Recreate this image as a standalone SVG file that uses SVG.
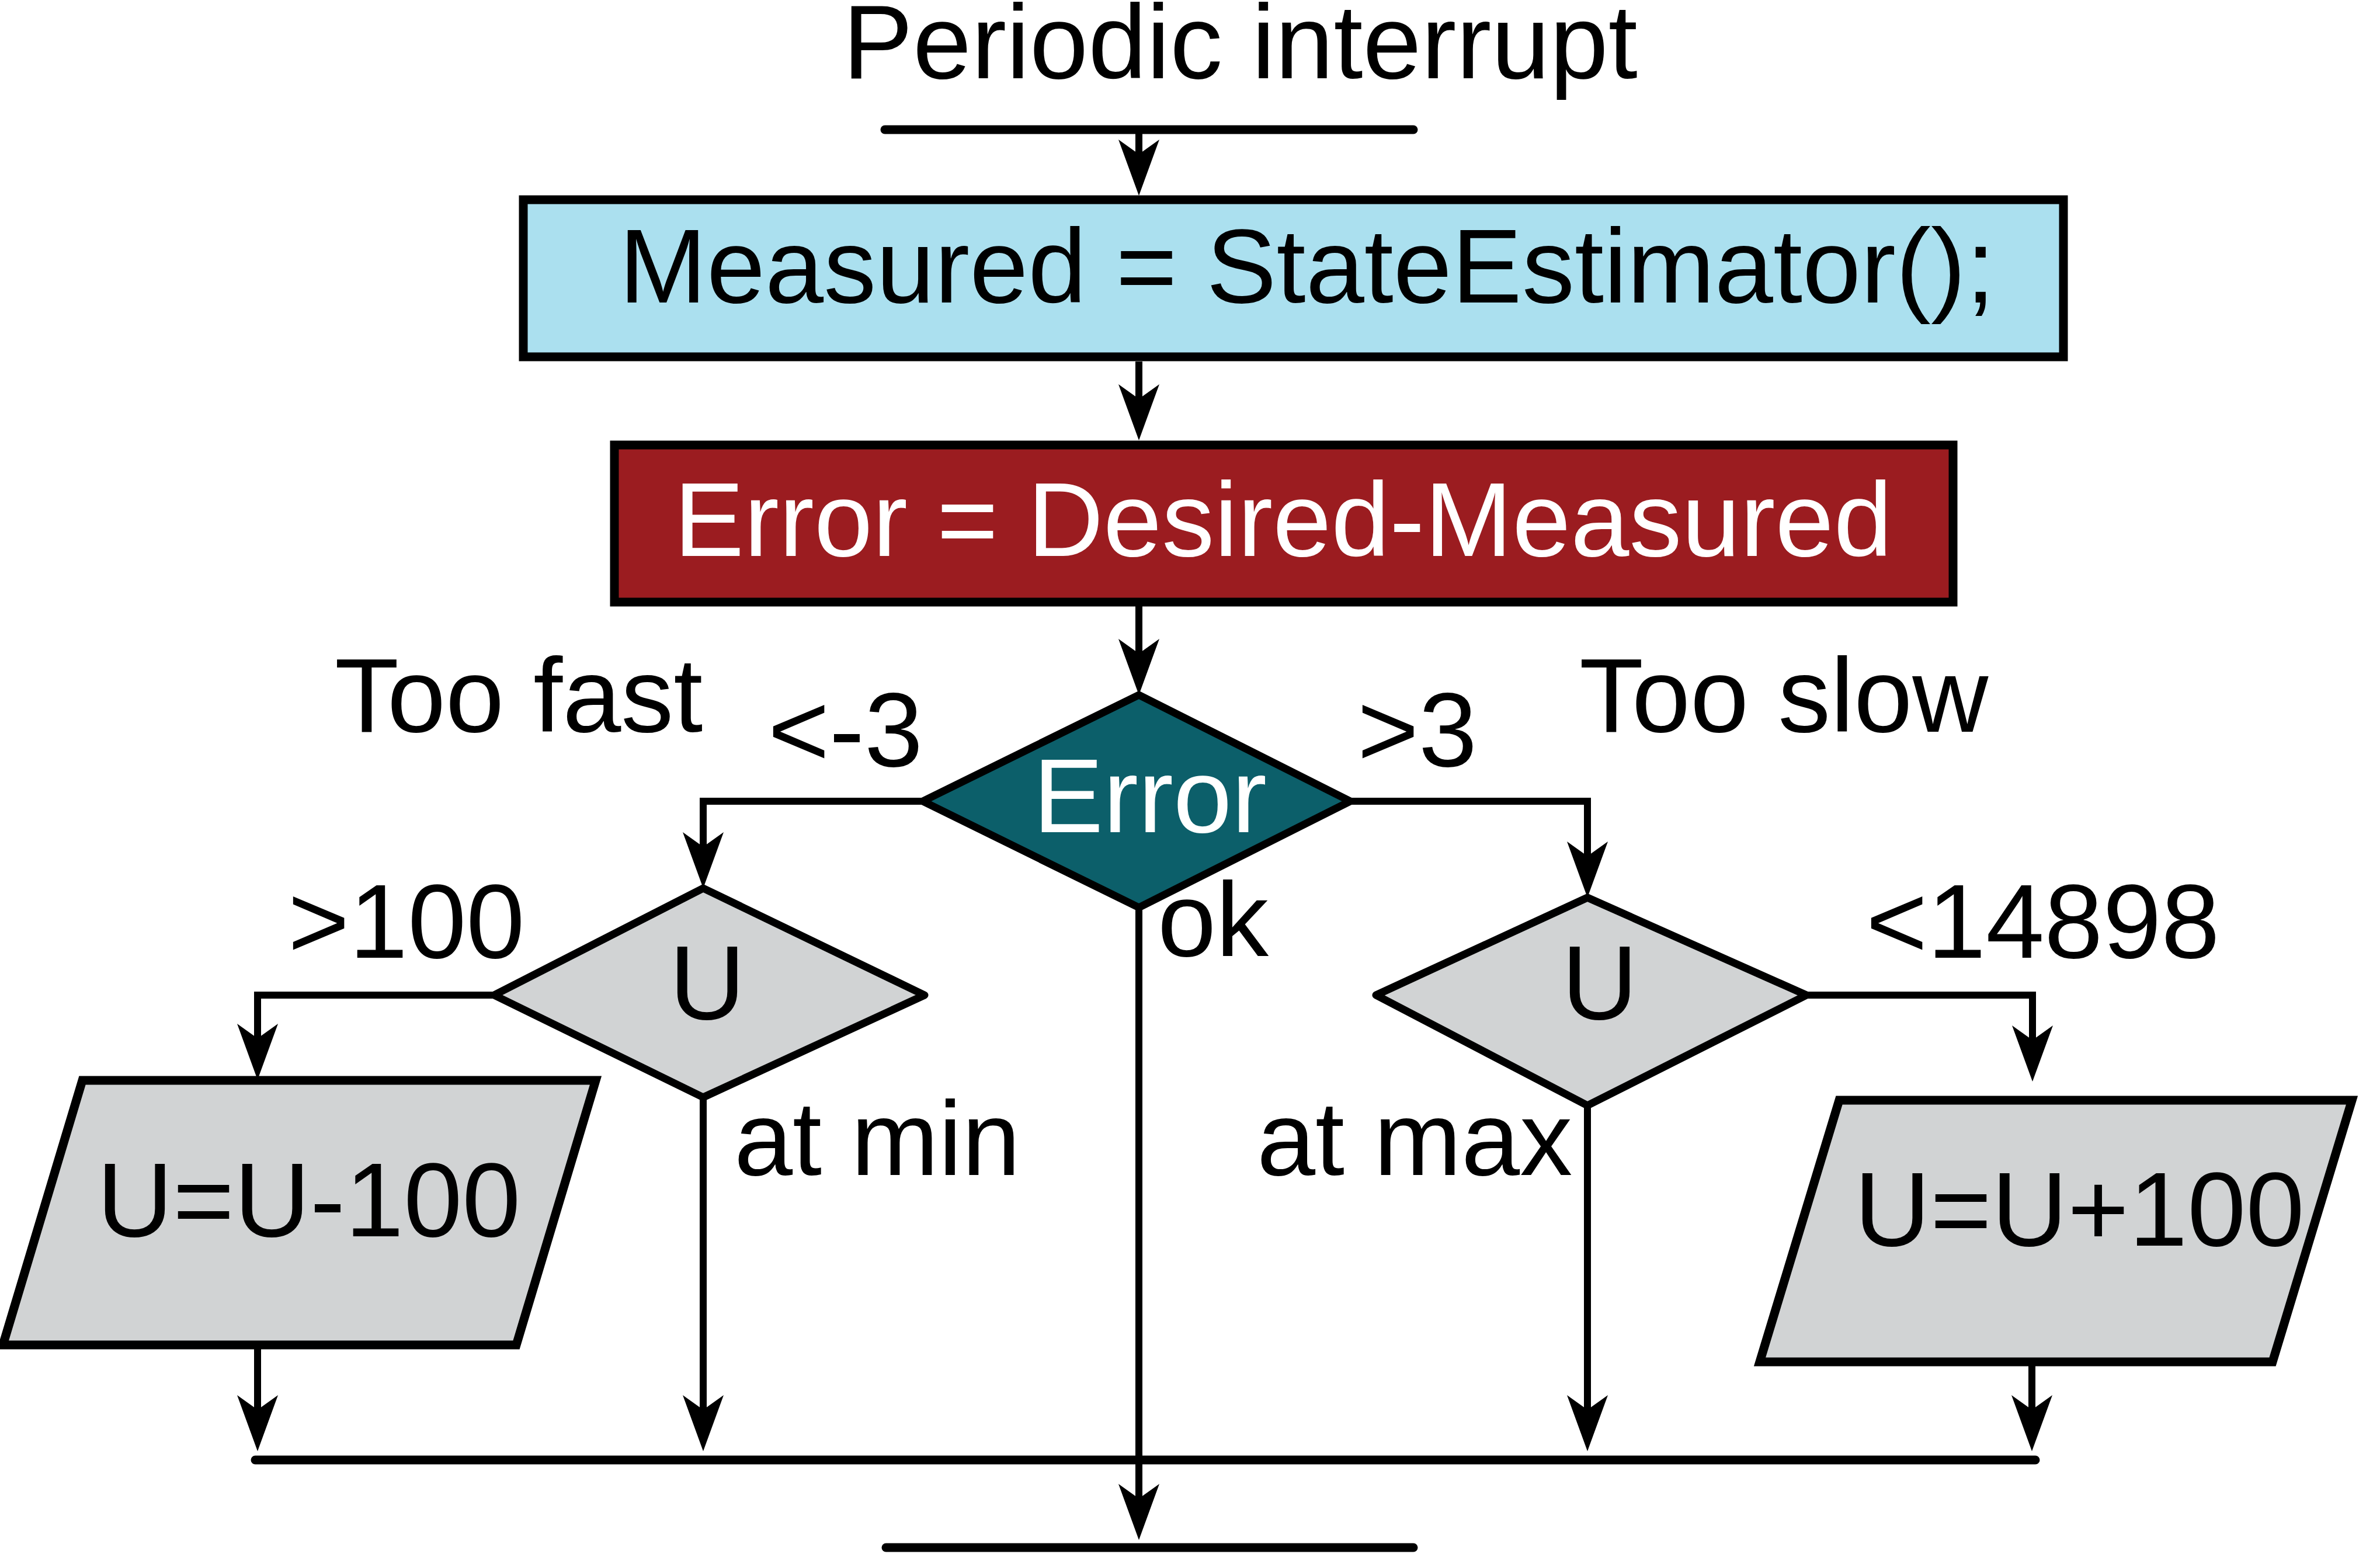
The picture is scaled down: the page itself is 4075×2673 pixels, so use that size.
<svg xmlns="http://www.w3.org/2000/svg" width="4075" height="2673" viewBox="0 0 4075 2673">
<style>
text{font-family:"Liberation Sans",Arial,sans-serif;font-size:180px;fill:#000}
.w{fill:#fff}
.box{stroke:#000;stroke-width:15;stroke-linejoin:miter}
.dia{stroke:#000;stroke-width:13;stroke-linejoin:round}
.con{fill:none;stroke:#000;stroke-width:12;marker-end:url(#ah)}
.bar{fill:none;stroke:#000;stroke-width:15;stroke-linecap:round}
</style>
<defs>
<marker id="ah" markerUnits="userSpaceOnUse" orient="auto" overflow="visible" markerWidth="1" markerHeight="1" refX="0" refY="0">
<path d="M71,0 L-25,-35 L0,0 L-25,35 Z" fill="#000"/>
</marker>
</defs>
<rect width="4075" height="2673" fill="#fff"/>
<g id="start">
<text x="1443" y="134">Periodic interrupt</text>
<path class="bar" d="M1515,222 H2420"/>
</g>
<g id="measure">
<rect class="box" x="896" y="342" width="2637" height="269" fill="#ABE0EF"/>
<text x="1060" y="518">Measured = StateEstimator();</text>
</g>
<g id="error-calc">
<rect class="box" x="1052" y="762" width="2292" height="269" fill="#9B1C20"/>
<text class="w" x="1154" y="952">Error = Desired-Measured</text>
</g>
<g id="error-decision">
<polygon class="dia" points="1950,1190 2312,1372 1950,1554 1580,1372" fill="#0C5F6A"/>
<text class="w" x="1769" y="1425">Error</text>
</g>
<g id="u-min">
<polygon class="dia" points="1204,1521 1583,1704 1204,1879 846,1704" fill="#D1D3D4"/>
<text x="1146" y="1745">U</text>
</g>
<g id="u-max">
<polygon class="dia" points="2718,1537 3093,1704 2718,1893 2356,1704" fill="#D1D3D4"/>
<text x="2674" y="1745">U</text>
</g>
<g id="dec">
<polygon class="box" points="141,1850 1020,1850 884,2303 5,2303" fill="#D1D3D4"/>
<text x="166" y="2117">U=U-100</text>
</g>
<g id="inc">
<polygon class="box" points="3149,1884 4027,1884 3891,2332 3013,2332" fill="#D1D3D4"/>
<text x="3175" y="2133">U=U+100</text>
</g>
<g id="end">
<path class="bar" d="M1517,2650 H2420"/>
</g>
<g id="connectors">
<path class="con" d="M1950,222 V264"/>
<path class="con" d="M1950,619 V683"/>
<path class="con" d="M1950,1038 V1119"/>
<path class="con" d="M1580,1372 H1204 V1450"/>
<path class="con" d="M2312,1372 H2718 V1466"/>
<path class="con" d="M846,1704 H441 V1778"/>
<path class="con" d="M3093,1704 H3480 V1781"/>
<path class="con" d="M1204,1879 V2414"/>
<path class="con" d="M2718,1893 V2414"/>
<path class="con" d="M441,2303 V2414"/>
<path class="con" d="M3479,2332 V2414"/>
<path class="bar" d="M437,2500 H3485"/>
<path class="con" d="M1950,1554 V2566"/>
</g>
<g id="labels">
<text x="573" y="1253">Too fast</text>
<text x="2704" y="1253">Too slow</text>
<text x="1315" y="1312">&lt;-3</text>
<text x="2324" y="1312">&gt;3</text>
<text x="1982" y="1637">ok</text>
<text x="493" y="1640">&gt;100</text>
<text x="3195" y="1640">&lt;14898</text>
<text x="1257" y="2012">at min</text>
<text x="2152" y="2012">at max</text>
</g>
</svg>
